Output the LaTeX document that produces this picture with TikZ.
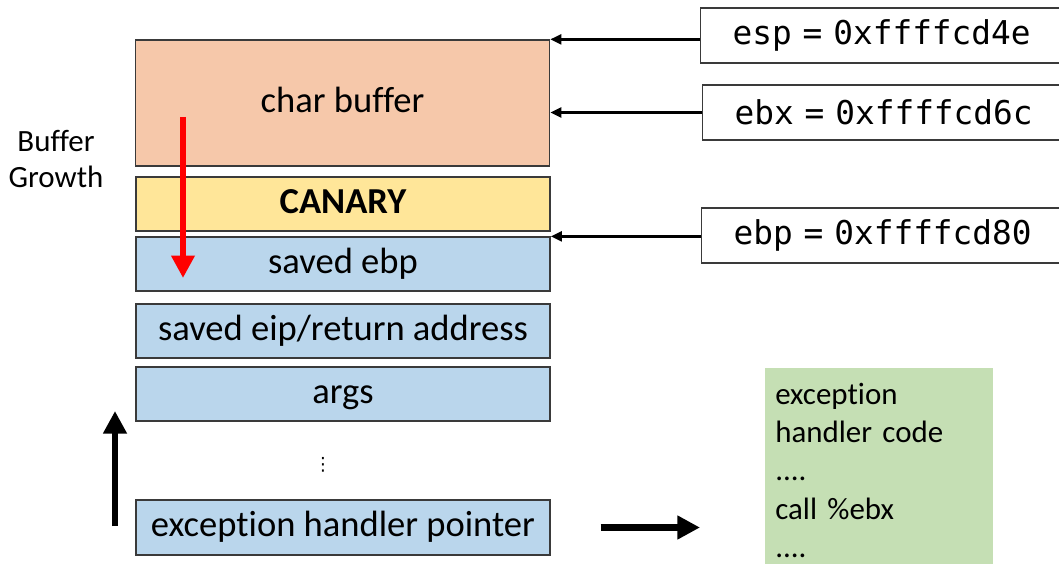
\documentclass[tikz,border=0pt]{standalone}
\usepackage{fontspec}
\setmainfont{Carlito}[Ligatures=NoCommon]
\setmonofont{DejaVu Sans Mono}
\newfontfamily\symfont{DejaVu Sans}
\usepackage{xcolor}
\usetikzlibrary{arrows.meta, positioning}

\definecolor{bufpeach}{HTML}{F6C8AA}
\definecolor{canaryyellow}{HTML}{FFE699}
\definecolor{frameblue}{HTML}{BAD6EC}
\definecolor{codegreen}{HTML}{C5DFB4}
\definecolor{edgegray}{HTML}{3A3A3A}

\begin{document}
\begin{tikzpicture}[
    x=0.025cm, y=-0.025cm,
    frame/.style={draw=edgegray, line width=0.9pt, minimum width=10.35cm, minimum height=1.35cm, inner sep=0pt, text height=18pt, text depth=5pt, font=\fontsize{26}{30}\selectfont},
    reg/.style={draw=edgegray, line width=0.9pt, fill=white, anchor=west, minimum height=1.375cm, text width=8.5cm, inner xsep=0.8cm, font=\ttfamily\fontsize{23.3}{27}\selectfont},
    code/.style={fill=codegreen, anchor=north west, minimum width=5.7cm, minimum height=5.1cm, text width=5.2cm, inner xsep=0.25cm, align=left, font=\fontsize{22}{27.3}\selectfont},
    ptr/.style={-{Triangle[length=8pt,width=7pt]}, line width=2pt},
    fat/.style={-{Triangle[length=16pt,width=16pt]}, line width=4.5pt},
]
\useasboundingbox (0,0) rectangle (1059,564);

% stack frame
\node[frame, fill=bufpeach, minimum height=3.15cm] (cbuf) at (342.5,103) {char buffer};
\node[frame, fill=canaryyellow, font=\bfseries\fontsize{26}{30}\selectfont] (canary) at (343,204) {CANARY};
\node[frame, fill=frameblue] (sebp) at (343,264) {saved ebp};
\node[frame, fill=frameblue] (seip) at (343,331) {saved eip/return address};
\node[frame, fill=frameblue] (args) at (343,394) {args};
\node[inner sep=0pt, font=\symfont\fontsize{13}{13}\selectfont] (dots) at (323,465) {⋮};
\node[frame, fill=frameblue, minimum height=1.375cm] (ehp) at (343,527.5) {exception handler pointer};

\node[align=center, font=\fontsize{22}{25.5}\selectfont] (growth) at (56,159) {Buffer\\Growth};

% registers
\node[reg] (esp) at (700,35.5) {esp = 0xffffcd4e};
\node[reg] (ebx) at (702,112.5) {ebx = 0xffffcd6c};
\node[reg] (ebp) at (701,235.5) {ebp = 0xffffcd80};

\draw[ptr] (esp.west |- cbuf.north east) -- (cbuf.north east);
\draw[ptr] (ebx.west) -- (ebx.west -| cbuf.east);
\draw[ptr] (ebp.west |- sebp.north east) -- (sebp.north east);

% handler
\node[code] (code) at (765,368) {exception\\handler code\\....\\call \%ebx\\....};

\draw[fat, shorten <=1.25cm, shorten >=1.625cm] (ehp.east) -- (ehp.east -| code.west);

% growth directions
\coordinate (redtop) at (183,117);
\coordinate (redtip) at (183,278);
\draw[fat, red, line width=4.5pt] (redtop) -- (redtip);
\coordinate (uptail) at (115,526);
\coordinate (uptip) at (115,411);
\draw[fat] (uptail) -- (uptip);

\end{tikzpicture}
\end{document}
